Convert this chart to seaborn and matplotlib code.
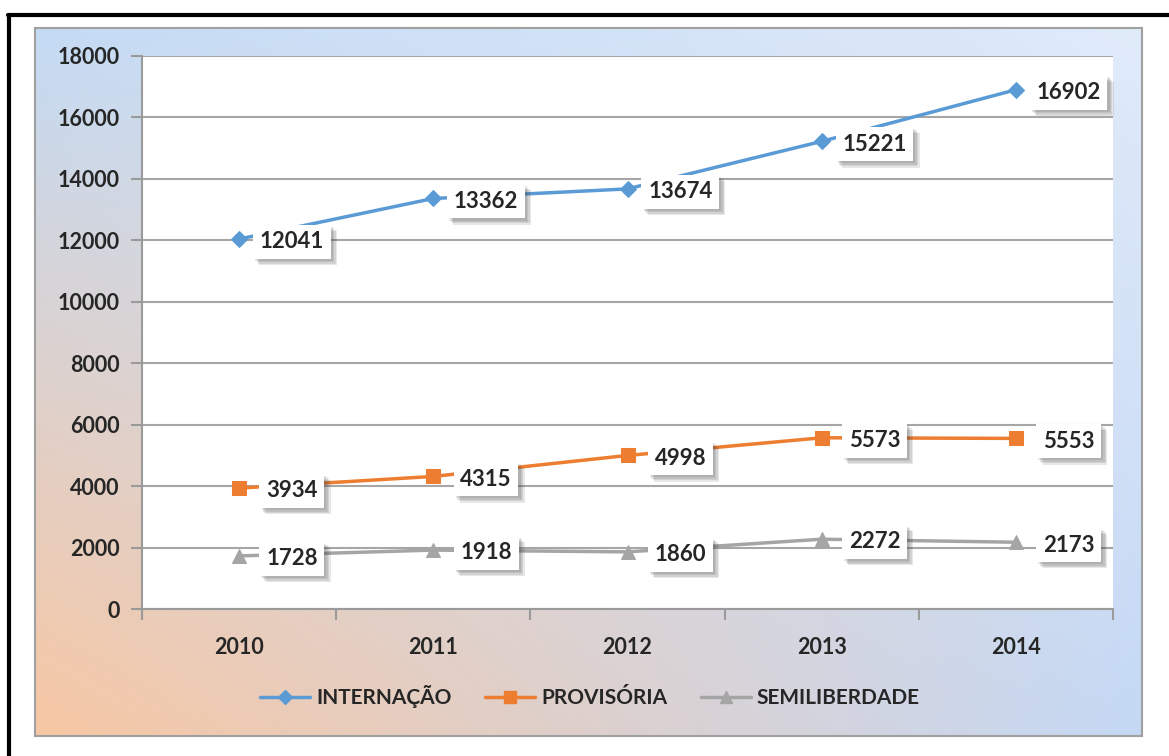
import matplotlib
matplotlib.use("Agg")
import matplotlib.pyplot as plt
import matplotlib.patheffects as pe
from matplotlib.lines import Line2D
import seaborn as sns
import pandas as pd
import numpy as np

# data
years = ['2010', '2011', '2012', '2013', '2014']
internacao = [12041, 13362, 13674, 15221, 16902]
provisoria = [3934, 4315, 4998, 5573, 5553]
semiliberdade = [1728, 1918, 1860, 2272, 2173]
series_names = ['INTERNAÇÃO', 'PROVISÓRIA', 'SEMILIBERDADE']
colors = ['#5b9bd5', '#ed7d31', '#a5a5a5']
markers = ['D', 's', '^']
yticks = list(range(0, 18001, 2000))

sns.set_style('white')
plt.rcParams['font.family'] = ['Lato', 'DejaVu Sans']

fig = plt.figure(figsize=(11.69, 7.56), dpi=100)

# black frame (top and left)
fig.add_artist(Line2D([8 / 1169, 1], [1 - 15 / 756] * 2, color='black', lw=3, transform=fig.transFigure))
fig.add_artist(Line2D([9 / 1169] * 2, [0, 1 - 15 / 756], color='black', lw=3, transform=fig.transFigure))

# gradient chart area
bg = fig.add_axes([35 / 1169, 1 - 736 / 756, (1142 - 35) / 1169, (736 - 28) / 756], zorder=0)
tl = np.array([0.77, 0.86, 0.96])
tr = np.array([0.88, 0.92, 0.98])
bl = np.array([0.97, 0.78, 0.64])
br = np.array([0.77, 0.85, 0.96])
u = np.linspace(0, 1, 300)[None, :, None]
v = np.linspace(0, 1, 200)[:, None, None]
img = (1 - v) * ((1 - u) * tl + u * tr) + v * ((1 - u) * bl + u * br)
bg.imshow(img, aspect='auto', extent=[0, 1, 0, 1])
bg.set_xticks([])
bg.set_yticks([])
for s in bg.spines.values():
    s.set_color('#a0a0a0')
    s.set_linewidth(1.5)

ax = fig.add_axes([142 / 1169, 1 - 609 / 756, (1113 - 142) / 1169, (609 - 56) / 756], zorder=1)
ax.set_facecolor('white')

df = pd.DataFrame({
    'x': list(range(len(years))) * 3,
    'valor': internacao + provisoria + semiliberdade,
    'serie': [n for n in series_names for _ in years],
})

soft_shadow = [pe.SimplePatchShadow(offset=(k, -k), alpha=0.12, shadow_rgbFace='#404040') for k in (1.5, 2.5, 3.5, 4.5)]

for name, c, m in zip(series_names, colors, markers):
    d = df[df['serie'] == name]
    sns.lineplot(data=d, x='x', y='valor', ax=ax, color=c, marker=m, markersize=10 if m != 'D' else 8,
                 markeredgecolor=c, linewidth=2.5, zorder=3, legend=False)
    for xi, yi in zip(d['x'], d['valor']):
        t = ax.annotate(str(yi), (xi, yi), xytext=(38, -2), textcoords='offset points',
                        ha='center', va='center', fontsize=16, fontweight='bold', color='#262626',
                        zorder=4,
                        bbox=dict(boxstyle='square,pad=0.3', fc='white', ec='none'))
        t.get_bbox_patch().set_path_effects(soft_shadow + [pe.Normal()])

ax.set_xlim(-0.5, 4.5)
ax.set_ylim(0, 18000)
ax.set_yticks(yticks)
ax.set_yticklabels([str(y) for y in yticks])
ax.set_xticks(np.arange(-0.5, 5, 1))
ax.set_xticklabels([])
ax.set_xticks(range(len(years)), minor=True)
ax.set_xticklabels(years, minor=True)
ax.tick_params(axis='x', which='major', length=8, color='#9a9a9a', width=1.5, direction='out', bottom=True)
ax.tick_params(axis='x', which='minor', length=0, pad=20, labelsize=15.5)
ax.tick_params(axis='y', length=8, color='#9a9a9a', width=1.5, direction='out', left=True, labelsize=15.5, pad=8)
for lab in ax.get_xticklabels(minor=True) + ax.get_yticklabels():
    lab.set_fontweight('bold')
    lab.set_color('#262626')
ax.grid(axis='y', color='#a6a6a6', linewidth=1.5)
ax.set_axisbelow(True)
for s in ['top', 'right']:
    ax.spines[s].set_visible(False)
for s in ['left', 'bottom']:
    ax.spines[s].set_color('#9a9a9a')
    ax.spines[s].set_linewidth(1.5)
ax.set_xlabel('')
ax.set_ylabel('')

handles = [Line2D([0], [0], color=c, marker=m, markersize=9 if m != 'D' else 7, lw=2.5, markeredgecolor=c)
           for c, m in zip(colors, markers)]
leg = fig.legend(handles, series_names, loc='center', bbox_to_anchor=(590 / 1169, 1 - 697 / 756), ncol=3,
                 frameon=False, handlelength=2.4, handletextpad=0.3, columnspacing=1.6,
                 prop={'size': 15, 'weight': 'bold'})
for t in leg.get_texts():
    t.set_color('#262626')

fig.savefig('out.png', dpi=100)
